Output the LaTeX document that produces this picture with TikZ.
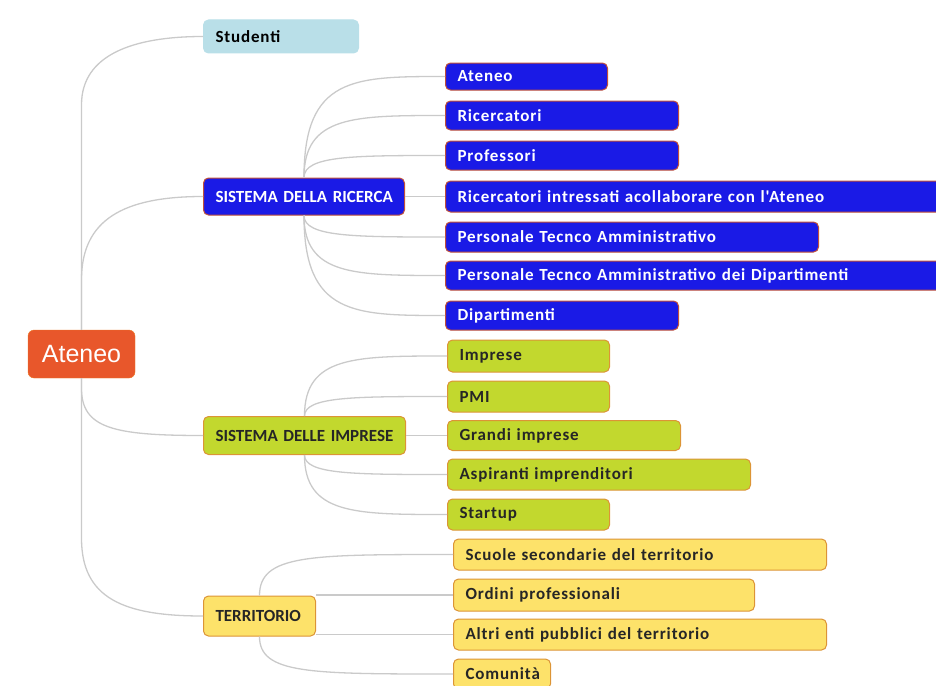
\documentclass[tikz,border=0pt]{standalone}
\usepackage{fontspec}
\setmainfont{Carlito}
\newfontfamily\mapfont[LetterSpace=5]{Carlito}
\newfontfamily\rootfont{Liberation Sans}
\usetikzlibrary{calc}
\definecolor{blu}{HTML}{1A1AE6}
\definecolor{bordoblu}{HTML}{C0503A}
\definecolor{verde}{HTML}{C2D82E}
\definecolor{giallo}{HTML}{FDE26A}
\definecolor{bordo}{HTML}{DC9436}
\definecolor{celeste}{HTML}{B9DFE8}
\definecolor{arancio}{HTML}{E8572B}
\definecolor{grigio}{HTML}{CACACA}

\begin{document}
\begin{tikzpicture}[x=1pt, y=-1pt,
  box/.style={rounded corners=5pt, anchor=west, align=left, inner xsep=12pt, inner ysep=0pt,
    line width=1pt, font=\mapfont\fontsize{17}{20}\selectfont\bfseries},
  titolo/.style={font=\normalfont\fontsize{17}{20}\selectfont\bfseries},
  blubox/.style={box, fill=blu, draw=bordoblu, text=white},
  verdebox/.style={box, fill=verde, draw=bordo, text=black!85},
  giallobox/.style={box, fill=giallo, draw=bordo, text=black!85},
  link/.style={draw=grigio, line width=1.3pt}]
  \useasboundingbox (0,0) rectangle (936,685);

  % radice
  \node[fill=arancio, draw=arancio!80!yellow, rounded corners=6pt, minimum width=107pt, minimum height=48pt,
    text=white, font=\rootfont\fontsize{25}{28}\selectfont] (root) at (81.5,354) {Ateneo};

  % primo livello
  \node[box, fill=celeste, draw=celeste, minimum height=33pt, text width=131pt] (stud) at (203,36.5) {Studenti};
  \node[blubox, titolo, minimum height=37pt, text width=177pt] (ricerca) at (203,196.5) {\mbox{SISTEMA DELLA RICERCA}};
  \node[verdebox, titolo, minimum height=38pt, text width=178pt] (imprese) at (203,435.5) {\mbox{SISTEMA DELLE IMPRESE}};
  \node[giallobox, titolo, minimum height=40pt, text width=88pt] (terr) at (203,616) {TERRITORIO};

  % sistema della ricerca
  \node[blubox, minimum height=27pt, text width=138pt] (r1) at (445,76.5) {Ateneo};
  \node[blubox, minimum height=29pt, text width=209pt] (r2) at (445,115.5) {Ricercatori};
  \node[blubox, minimum height=29pt, text width=209pt] (r3) at (445,155.5) {Professori};
  \node[blubox, minimum height=31pt, text width=496pt] (r4) at (445,196.5) {Ricercatori intressati acollaborare con l'Ateneo};
  \node[blubox, minimum height=30pt, text width=349pt] (r5) at (445,237) {Personale Tecnco Amministrativo};
  \node[blubox, minimum height=29pt, text width=496pt] (r6) at (445,275.5) {Personale Tecnco Amministrativo dei Dipartimenti};
  \node[blubox, minimum height=29pt, text width=209pt] (r7) at (445,315.5) {Dipartimenti};

  % sistema delle imprese
  \node[verdebox, minimum height=32pt, text width=138pt] (i1) at (447,356) {Imprese};
  \node[verdebox, minimum height=31pt, text width=138pt] (i2) at (447,396.5) {PMI};
  \node[verdebox, minimum height=30pt, text width=209pt] (i3) at (447,435.5) {Grandi imprese};
  \node[verdebox, minimum height=31pt, text width=279pt] (i4) at (447,474.5) {Aspiranti imprenditori};
  \node[verdebox, minimum height=31pt, text width=138pt] (i5) at (447,514.5) {Startup};

  % territorio
  \node[giallobox, minimum height=31pt, text width=349pt] (t1) at (453,554.5) {Scuole secondarie del territorio};
  \node[giallobox, minimum height=32pt, text width=277pt] (t2) at (453,595) {Ordini professionali};
  \node[giallobox, minimum height=31pt, text width=349pt] (t3) at (453,634.5) {Altri enti pubblici del territorio};
  \node[giallobox, minimum height=30pt, text width=73pt] (t4) at (453,674) {Comunità};

  % rami dalla radice
  \draw[link] (root.north) -- ++(0,-225) .. controls +(0,-50) and +(-70,0) .. (stud.west);
  \draw[link] (root.north) -- ++(0,-50) .. controls +(0,-60) and +(-80,0) .. (ricerca.west);
  \draw[link] (root.south) -- ++(0,10) .. controls +(0,40) and +(-90,0) .. (imprese.west);
  \draw[link] (root.south) -- ++(0,160) .. controls +(0,60) and +(-80,0) .. (terr.west);

  % rami secondari
  \foreach \n in {r1,r2,r3}
    \draw[link] (ricerca.north) .. controls (ricerca.north |- \n.west) and ($(ricerca.north |- \n.west)+(50,0)$) .. (\n.west);
  \draw[link] (ricerca.east) -- (r4.west);
  \foreach \n in {r5,r6,r7}
    \draw[link] (ricerca.south) .. controls (ricerca.south |- \n.west) and ($(ricerca.south |- \n.west)+(50,0)$) .. (\n.west);

  \foreach \n in {i1,i2}
    \draw[link] (imprese.north) .. controls (imprese.north |- \n.west) and ($(imprese.north |- \n.west)+(50,0)$) .. (\n.west);
  \draw[link] (imprese.east) -- (i3.west);
  \foreach \n in {i4,i5}
    \draw[link] (imprese.south) .. controls (imprese.south |- \n.west) and ($(imprese.south |- \n.west)+(50,0)$) .. (\n.west);

  \draw[link] (terr.north) .. controls (terr.north |- t1.west) and ($(terr.north |- t1.west)+(50,0)$) .. (t1.west);
  \foreach \n in {t2,t3}
    \draw[link] (terr.east |- \n.west) -- (\n.west);
  \draw[link] (terr.south) .. controls (terr.south |- t4.west) and ($(terr.south |- t4.west)+(50,0)$) .. (t4.west);
\end{tikzpicture}
\end{document}
